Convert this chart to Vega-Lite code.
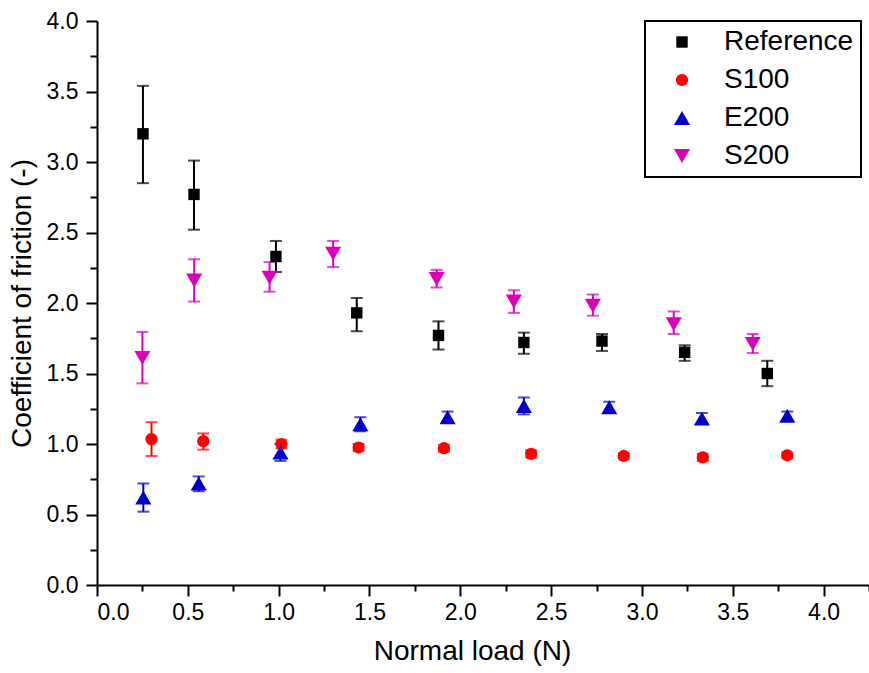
{
  "$schema": "https://vega.github.io/schema/vega-lite/v6.json",
  "autosize": "none",
  "width": 772,
  "height": 564,
  "padding": {"left": 97, "top": 21, "right": 0, "bottom": 88},
  "background": "white",
  "config": {
    "view": {"stroke": null},
    "font": "Liberation Sans",
    "axis": {
      "domainColor": "black", "domainWidth": 2, "tickColor": "black", "tickWidth": 2,
      "tickSize": 11, "labelColor": "black", "labelFont": "Liberation Sans", "labelFontSize": 23,
      "titleFont": "Liberation Sans", "titleFontSize": 28, "titleFontWeight": "normal", "titleColor": "black",
      "grid": false
    },
    "legend": {
      "orient": "none", "legendX": 548, "legendY": 0, "strokeColor": "black", "strokeWidth": 2, "padding": 7,
      "labelFont": "Liberation Sans", "labelFontSize": 28, "labelColor": "black", "rowPadding": 10,
      "symbolOffset": 16, "labelOffset": 28, "symbolStrokeWidth": 0, "symbolOpacity": 1
    }
  },
  "data": {"values": [
    {"series": "Reference", "x": 0.253, "y": 3.20, "lo": 2.85, "hi": 3.54},
    {"series": "Reference", "x": 0.534, "y": 2.77, "lo": 2.52, "hi": 3.01},
    {"series": "Reference", "x": 0.985, "y": 2.33, "lo": 2.22, "hi": 2.44},
    {"series": "Reference", "x": 1.43, "y": 1.93, "lo": 1.80, "hi": 2.035},
    {"series": "Reference", "x": 1.88, "y": 1.77, "lo": 1.67, "hi": 1.87},
    {"series": "Reference", "x": 2.35, "y": 1.72, "lo": 1.64, "hi": 1.79},
    {"series": "Reference", "x": 2.78, "y": 1.73, "lo": 1.66, "hi": 1.78},
    {"series": "Reference", "x": 3.235, "y": 1.65, "lo": 1.59, "hi": 1.70},
    {"series": "Reference", "x": 3.69, "y": 1.50, "lo": 1.41, "hi": 1.59},
    {"series": "S100", "x": 0.30, "y": 1.035, "lo": 0.915, "hi": 1.155},
    {"series": "S100", "x": 0.585, "y": 1.02, "lo": 0.96, "hi": 1.075},
    {"series": "S100", "x": 1.015, "y": 1.00, "lo": 0.97, "hi": 1.03},
    {"series": "S100", "x": 1.44, "y": 0.975, "lo": 0.95, "hi": 1.00},
    {"series": "S100", "x": 1.91, "y": 0.97, "lo": 0.945, "hi": 0.995},
    {"series": "S100", "x": 2.39, "y": 0.93, "lo": 0.905, "hi": 0.955},
    {"series": "S100", "x": 2.90, "y": 0.915, "lo": 0.895, "hi": 0.935},
    {"series": "S100", "x": 3.335, "y": 0.905, "lo": 0.88, "hi": 0.93},
    {"series": "S100", "x": 3.80, "y": 0.92, "lo": 0.90, "hi": 0.94},
    {"series": "E200", "x": 0.255, "y": 0.62, "lo": 0.52, "hi": 0.72},
    {"series": "E200", "x": 0.56, "y": 0.72, "lo": 0.665, "hi": 0.77},
    {"series": "E200", "x": 1.01, "y": 0.94, "lo": 0.88, "hi": 1.00},
    {"series": "E200", "x": 1.45, "y": 1.14, "lo": 1.09, "hi": 1.19},
    {"series": "E200", "x": 1.93, "y": 1.19, "lo": 1.16, "hi": 1.23},
    {"series": "E200", "x": 2.35, "y": 1.27, "lo": 1.21, "hi": 1.33},
    {"series": "E200", "x": 2.82, "y": 1.26, "lo": 1.22, "hi": 1.30},
    {"series": "E200", "x": 3.33, "y": 1.18, "lo": 1.15, "hi": 1.22},
    {"series": "E200", "x": 3.80, "y": 1.20, "lo": 1.17, "hi": 1.23},
    {"series": "S200", "x": 0.25, "y": 1.61, "lo": 1.43, "hi": 1.795},
    {"series": "S200", "x": 0.535, "y": 2.16, "lo": 2.01, "hi": 2.31},
    {"series": "S200", "x": 0.95, "y": 2.18, "lo": 2.08, "hi": 2.29},
    {"series": "S200", "x": 1.30, "y": 2.35, "lo": 2.255, "hi": 2.44},
    {"series": "S200", "x": 1.87, "y": 2.17, "lo": 2.11, "hi": 2.235},
    {"series": "S200", "x": 2.295, "y": 2.01, "lo": 1.93, "hi": 2.09},
    {"series": "S200", "x": 2.73, "y": 1.98, "lo": 1.91, "hi": 2.06},
    {"series": "S200", "x": 3.175, "y": 1.85, "lo": 1.78, "hi": 1.94},
    {"series": "S200", "x": 3.61, "y": 1.71, "lo": 1.645, "hi": 1.78}
  ]},
  "resolve": {"axis": {"x": "independent", "y": "independent"}},
  "layer": [
    {
      "mark": {"type": "rule", "strokeWidth": 2},
      "encoding": {
        "x": {"field": "x", "type": "quantitative", "scale": {"domain": [0, 4.25], "nice": false, "zero": false}, "axis": null},
        "y": {"field": "lo", "type": "quantitative", "scale": {"domain": [0, 4], "nice": false}, "axis": null},
        "y2": {"field": "hi"},
        "color": {"field": "series", "type": "nominal"}
      }
    },
    {
      "mark": {"type": "tick", "orient": "horizontal", "size": 12, "thickness": 2},
      "encoding": {
        "x": {"field": "x", "type": "quantitative", "axis": null},
        "y": {"field": "lo", "type": "quantitative", "axis": null},
        "color": {"field": "series", "type": "nominal"}
      }
    },
    {
      "mark": {"type": "tick", "orient": "horizontal", "size": 12, "thickness": 2},
      "encoding": {
        "x": {"field": "x", "type": "quantitative", "axis": null},
        "y": {"field": "hi", "type": "quantitative", "axis": null},
        "color": {"field": "series", "type": "nominal"}
      }
    },
    {
      "mark": {"type": "point", "opacity": 0},
      "encoding": {
        "x": {"field": "x", "type": "quantitative", "axis": {"orient": "bottom", "values": [0.25, 0.75, 1.25, 1.75, 2.25, 2.75, 3.25, 3.75, 4.25], "labels": false, "domain": false, "tickSize": 6, "title": null}},
        "y": {"field": "y", "type": "quantitative", "axis": {"orient": "left", "values": [0.25, 0.75, 1.25, 1.75, 2.25, 2.75, 3.25, 3.75], "labels": false, "domain": false, "tickSize": 7, "title": null}}
      }
    },
    {
      "mark": {"type": "point", "filled": true, "opacity": 1},
      "encoding": {
        "x": {"field": "x", "type": "quantitative", "axis": {"orient": "bottom", "values": [0, 0.5, 1, 1.5, 2, 2.5, 3, 3.5, 4], "format": ".1f", "labelPadding": 5, "title": "Normal load (N)", "titlePadding": 13, "titleX": 375}},
        "y": {"field": "y", "type": "quantitative", "axis": {"orient": "left", "values": [0, 0.5, 1, 1.5, 2, 2.5, 3, 3.5, 4], "format": ".1f", "labelPadding": 8, "title": "Coefficient of friction (-)", "titlePadding": 10}},
        "color": {"field": "series", "type": "nominal",
          "scale": {"domain": ["Reference", "S100", "E200", "S200"], "range": ["#000000", "#ff0000", "#0000c8", "#dd00bb"]},
          "legend": {"title": null}},
        "shape": {"field": "series", "type": "nominal",
          "scale": {"domain": ["Reference", "S100", "E200", "S200"], "range": ["square", "circle", "triangle-up", "triangle-down"]},
          "legend": {"title": null}},
        "size": {"field": "series", "type": "nominal",
          "scale": {"type": "ordinal", "domain": ["Reference", "S100", "E200", "S200"], "range": [130, 150, 260, 260]},
          "legend": {"title": null}}
      }
    }
  ]
}
